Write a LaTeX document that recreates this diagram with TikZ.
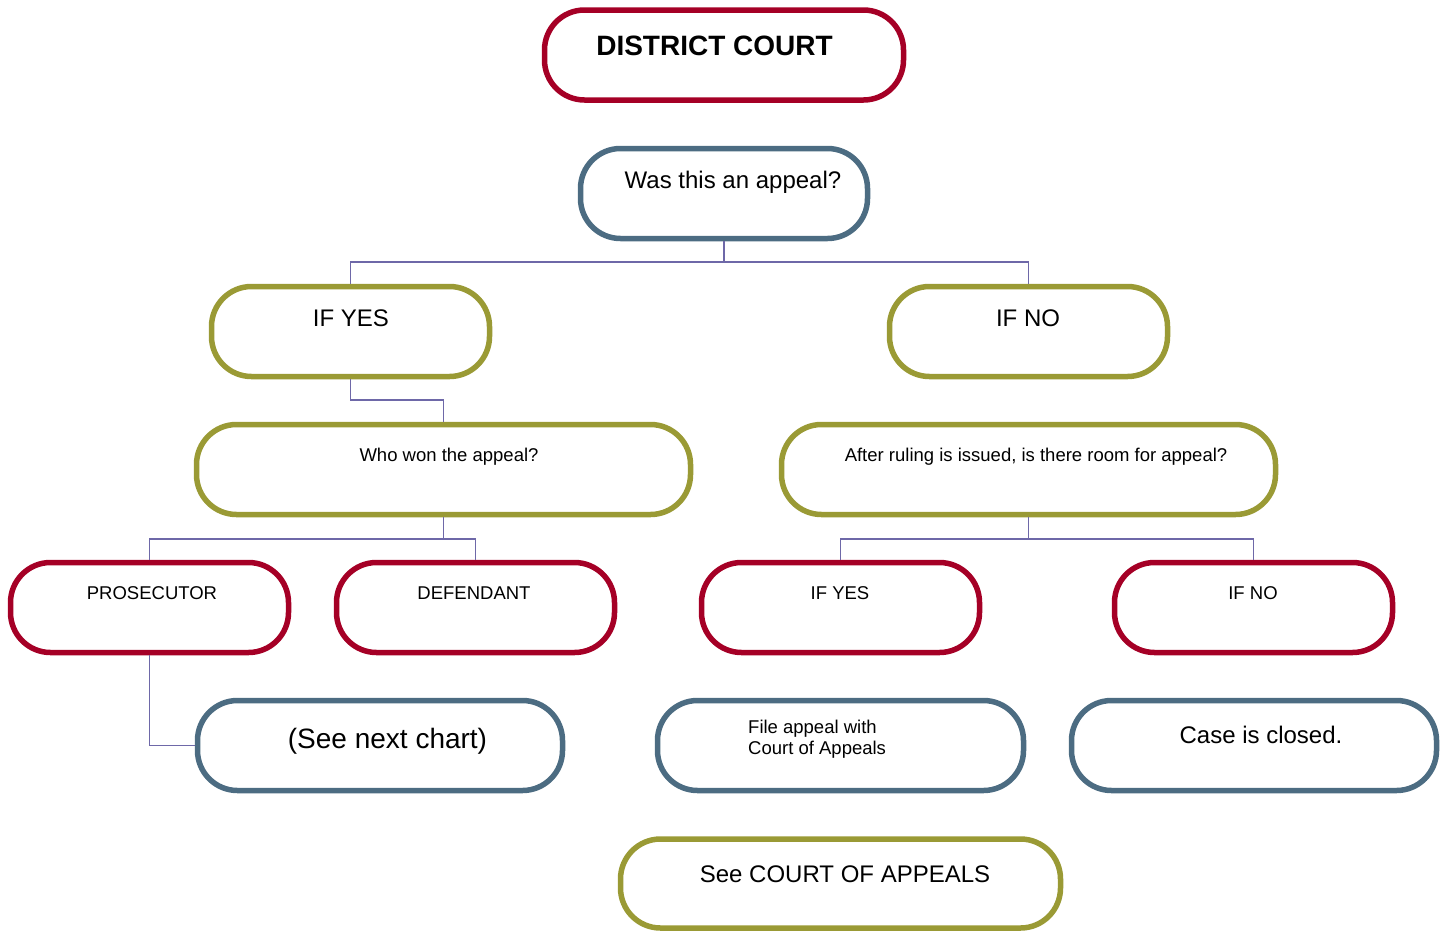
\documentclass[tikz,border=0pt]{standalone}
\usepackage{fontspec}
\setmainfont{Liberation Sans}
\definecolor{crim}{HTML}{A50026}
\definecolor{slate}{HTML}{4C6C82}
\definecolor{olive}{HTML}{9A9A35}
\definecolor{conn}{HTML}{6E68A8}
\tikzset{
  pill/.style={draw=#1, line width=5.5pt, rounded corners=40pt, rectangle, inner sep=0pt, fill=white},
  link/.style={draw=conn, line width=1.8pt},
  txt/.style={anchor=base, inner sep=0pt, text=black},
  big/.style={txt, font=\fontsize{24}{28}\selectfont},
  small/.style={txt, font=\fontsize{18.5}{21}\selectfont},
}
\begin{document}
\begin{tikzpicture}[x=1pt,y=-1pt]
\useasboundingbox (0,0) rectangle (1447,930);
% boxes
\node[pill=crim, minimum width=359pt, minimum height=90pt] (dc) at (724,55) {};
\node[pill=slate, minimum width=287pt, minimum height=90pt] (was) at (724,193.5) {};
\node[pill=olive, minimum width=278pt, minimum height=90pt] (yes1) at (350.5,331.5) {};
\node[pill=olive, minimum width=278pt, minimum height=90pt] (no1) at (1028.5,331.5) {};
\node[pill=olive, minimum width=494pt, minimum height=90pt] (who) at (443.5,469.5) {};
\node[pill=olive, minimum width=494pt, minimum height=90pt] (after) at (1028.5,469.5) {};
\node[pill=crim, minimum width=278pt, minimum height=90pt] (pros) at (149.5,607.5) {};
\node[pill=crim, minimum width=278pt, minimum height=90pt] (def) at (475.5,607.5) {};
\node[pill=crim, minimum width=278pt, minimum height=90pt] (yes2) at (840.5,607.5) {};
\node[pill=crim, minimum width=278pt, minimum height=90pt] (no2) at (1253.5,607.5) {};
\node[pill=slate, minimum width=365pt, minimum height=90pt] (next) at (380,745.5) {};
\node[pill=slate, minimum width=366pt, minimum height=90pt] (file) at (840.5,745.5) {};
\node[pill=slate, minimum width=365pt, minimum height=90pt] (closed) at (1254,745.5) {};
\node[pill=olive, minimum width=440pt, minimum height=89pt] (see) at (840.5,883.5) {};
% connectors
\draw[link] (was.south) -- (was.south |- 0,262) -| (yes1.north);
\draw[link] (was.south |- 0,262) -| (no1.north);
\draw[link] (yes1.south) -- (yes1.south |- 0,400) -| (who.north);
\draw[link] (who.south) -- (who.south |- 0,539) -| (pros.north);
\draw[link] (who.south |- 0,539) -| (def.north);
\draw[link] (after.south) -- (after.south |- 0,539) -| (yes2.north);
\draw[link] (after.south |- 0,539) -| (no2.north);
\draw[link] (pros.south) |- (next.west);
% texts
\node[txt, font=\fontsize{28}{32}\selectfont\bfseries] (tdc) at (714.5,55) {DISTRICT COURT};
\node[big] (twas) at (733,188) {Was this an appeal?};
\node[big] (tyes1) at (351,326) {IF YES};
\node[big] (tno1) at (1028,326) {IF NO};
\node[small] (twho) at (449,461) {Who won the appeal?};
\node[small] (tafter) at (1036,461) {After ruling is issued, is there room for appeal?};
\node[small] (tpros) at (152,599) {PROSECUTOR};
\node[small] (tdef) at (474,599) {DEFENDANT};
\node[small] (tyes2) at (840,599) {IF YES};
\node[small] (tno2) at (1253,599) {IF NO};
\node[txt, font=\fontsize{28}{32}\selectfont] (tnext) at (387.5,748) {(See next chart)};
\node[small, anchor=base west] (tfile1) at (748,733) {File appeal with};
\node[small, anchor=base west] (tfile2) at (748,754) {Court of Appeals};
\node[big] (tclosed) at (1261,743) {Case is closed.};
\node[big] (tsee) at (845,882) {See COURT OF APPEALS};
\end{tikzpicture}
\end{document}
